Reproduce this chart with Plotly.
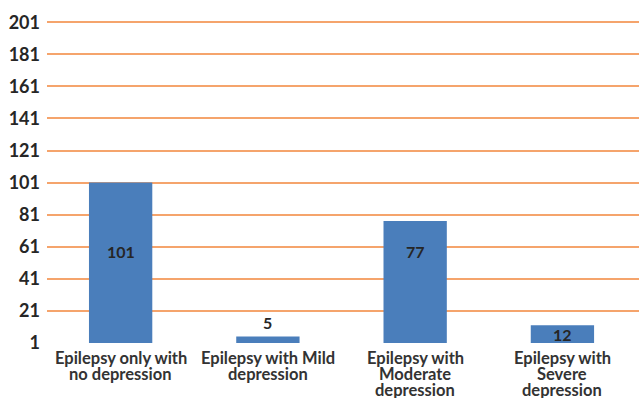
import plotly.graph_objects as go

category_lines = [
    ["Epilepsy only with", "no depression"],
    ["Epilepsy with Mild", "depression"],
    ["Epilepsy with", "Moderate", "depression"],
    ["Epilepsy with", "Severe", "depression"],
]
counts = [101, 5, 77, 12]
tick_vals = [1, 21, 41, 61, 81, 101, 121, 141, 161, 181, 201]

BASE = 1
BAR_COLOR = "#4a7ebb"
GRID_COLOR = "#f5a46c"
TEXT_COLOR = "#262626"
FONT = "Lato, 'Open Sans', sans-serif"

x_pos = list(range(len(category_lines)))

fig = go.Figure(
    go.Bar(
        x=x_pos,
        y=[c - BASE for c in counts],
        base=BASE,
        width=0.43,
        marker=dict(color=BAR_COLOR, line=dict(width=0)),
        hoverinfo="skip",
    )
)

# value labels: tall bars get a label part-way up, short bars centred or above
for i, c in enumerate(counts):
    if c >= 50:
        ly, anchor = 58, "middle"
    elif c >= 10:
        ly, anchor = BASE + (c - BASE) / 2, "middle"
    else:
        ly, anchor = c + 1.5, "bottom"
    fig.add_annotation(
        x=i, y=ly, text=f"<b>{c}</b>", showarrow=False, yanchor=anchor,
        font=dict(family=FONT, size=16, color=TEXT_COLOR),
    )

# category labels, one line at a time for tight line spacing
for i, lines in enumerate(category_lines):
    for k, line in enumerate(lines):
        fig.add_annotation(
            x=i, y=0, xref="x", yref="paper", text=f"<b>{line}</b>",
            showarrow=False, yanchor="middle", yshift=-15 - 16 * k,
            font=dict(family=FONT, size=16.5, color="#333333"),
        )

fig.update_layout(
    width=639, height=398,
    margin=dict(l=47, r=0, t=19, b=55),
    paper_bgcolor="white", plot_bgcolor="white",
    showlegend=False,
    font=dict(family=FONT, color=TEXT_COLOR),
    xaxis=dict(
        range=[-0.5, 3.52],
        showticklabels=False,
        showgrid=False, zeroline=False, showline=False, ticks="",
        automargin=False,
    ),
    yaxis=dict(
        range=[BASE, 203],
        tickvals=tick_vals,
        ticktext=[f"<b>{v}</b>" for v in tick_vals],
        tickfont=dict(size=18, color=TEXT_COLOR),
        showgrid=True, gridcolor=GRID_COLOR, gridwidth=2,
        zeroline=False, showline=False, ticks="",
        ticklabelstandoff=6, automargin=False,
    ),
)

fig.write_html("out.html")
